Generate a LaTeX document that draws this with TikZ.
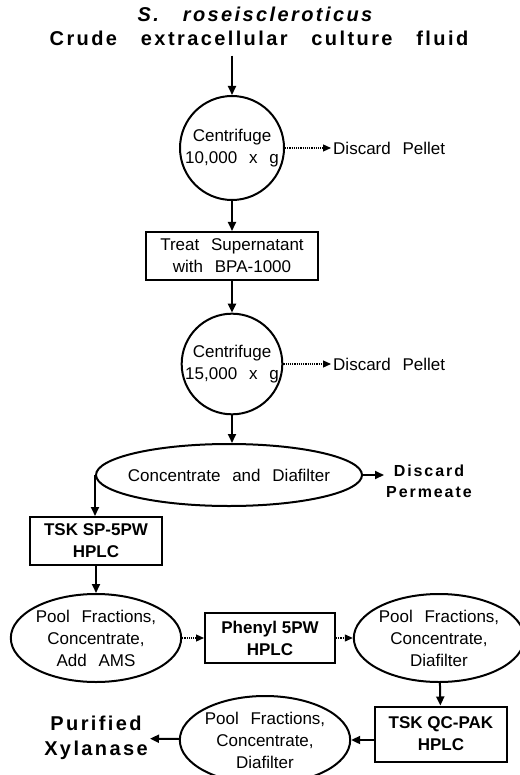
\documentclass[tikz,border=0pt]{standalone}
\usepackage{fontspec}
\setmainfont{Liberation Sans}[WordSpace=2.5]
\newfontfamily\headfont{Liberation Sans}[LetterSpace=12, WordSpace=3]
\newfontfamily\tightfont{Liberation Sans}[WordSpace=1]
\usepackage{tikz}
\usetikzlibrary{shapes, arrows.meta, positioning}

\begin{document}
\begin{tikzpicture}
  [
    x=1pt, y=-1pt,
    >={Triangle[length=9pt, width=8pt]},
    Round/.style={circle, draw=black, line width=2pt, inner sep=0pt, minimum size=104pt, align=center, font=\fontsize{17}{22}\selectfont},
    Oval/.style={ellipse, draw=black, line width=2pt, inner sep=0pt, minimum width=170pt, minimum height=88pt, align=center, font=\fontsize{17}{22}\selectfont},
    Box/.style={rectangle, draw=black, line width=2pt, inner sep=0pt, align=center, font=\fontsize{17}{22}\selectfont},
    Strong/.style={font=\tightfont\bfseries\fontsize{17}{22}\selectfont},
    Plain/.style={inner sep=2pt, font=\fontsize{17}{22}\selectfont},
    Head/.style={inner sep=2pt, align=center, font=\headfont\bfseries\fontsize{20}{25}\selectfont},
    Flow/.style={line width=2pt},
    Side/.style={line width=1.2pt, densely dotted, >={Triangle[length=8pt, width=7pt]}}
  ]
  \useasboundingbox (0,0) rectangle (519,775);

  % Nodes
  \node[Head] (title1) at (255, 14) {\itshape S. roseiscleroticus};
  \node[Head] (title2) at (259, 38) {Crude extracellular culture fluid};

  \node[Round] (c1) at (232, 148) {Centrifuge\\10,000 x g};
  \node[Plain, anchor=west] (pellet1) at (331, 148) {Discard Pellet};

  \node[Box, minimum width=172pt, minimum height=48pt] (treat) at (232, 256) {Treat Supernatant\\with BPA-1000};

  \node[Round, minimum size=100pt] (c2) at (232, 364) {Centrifuge\\15,000 x g};
  \node[Plain, anchor=west] (pellet2) at (331, 364) {Discard Pellet};

  \node[Oval, minimum width=266pt, minimum height=62pt, inner xsep=-10pt] (conc) at (229, 475) {Concentrate and Diafilter};
  \node[Head, anchor=north west, font=\headfont\bfseries\fontsize{16}{21}\selectfont] (permeate) at (384, 463) {Discard\\Permeate};

  \node[Box, Strong, minimum width=132pt, minimum height=48pt] (sp) at (96, 541) {TSK SP-5PW\\HPLC};

  \node[Oval] (pool1) at (96, 638) {Pool Fractions,\\Concentrate,\\Add AMS};
  \node[Box, Strong, minimum width=130pt, minimum height=50pt] (phenyl) at (270, 638) {Phenyl 5PW\\HPLC};
  \node[Oval] (pool2) at (439, 638) {Pool Fractions,\\Concentrate,\\Diafilter};

  \node[Box, Strong, minimum width=132pt, minimum height=55pt] (qcpak) at (441, 734) {TSK QC-PAK\\HPLC};
  \node[Oval] (pool3) at (265, 740) {Pool Fractions,\\Concentrate,\\Diafilter};
  \node[Head, anchor=east] (purified) at (150, 738) {Purified\\Xylanase};

  % Lines
  \path [->, draw, Flow, shorten <=8pt] (title2.south -| c1.north) -- (c1.north);
  \path [->, draw, Flow] (c1) -- (treat);
  \path [->, draw, Side] (c1) -- (pellet1);
  \path [->, draw, Flow] (treat) -- (c2);
  \path [->, draw, Side] (c2) -- (pellet2);
  \path [->, draw, Flow] (c2.south) -- (c2.south |- conc.north);
  \path [->, draw, Flow] (conc) -- (permeate.west |- conc.east);
  \path [->, draw, Flow] (conc.west) -- (conc.west |- sp.north);
  \path [->, draw, Flow] (sp) -- (pool1);
  \path [->, draw, Side] (pool1) -- (phenyl);
  \path [->, draw, Side] (phenyl) -- (pool2);
  \path [->, draw, Flow] (pool2) -- (qcpak);
  \path [->, draw, Flow] (qcpak.west |- pool3) -- (pool3);
  \path [->, draw, Flow] (pool3) -- (purified);

\end{tikzpicture}
\end{document}
